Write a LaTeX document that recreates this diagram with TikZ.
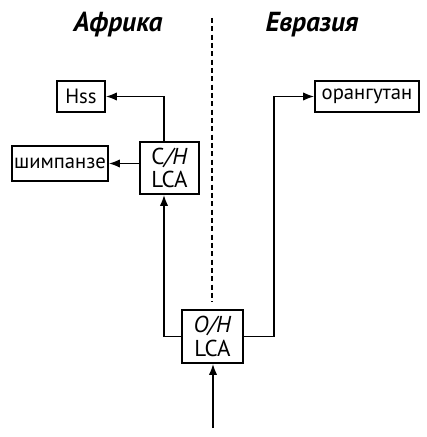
\documentclass[tikz,border=0pt]{standalone}
\usepackage{fontspec}
\setmainfont{PT Sans}
\usetikzlibrary{arrows.meta, positioning}

\begin{document}
\begin{tikzpicture}[>={Latex[length=6.5pt,width=5pt]}, x=0.6pt, y=-0.6pt,
  font=\fontsize{12.4}{14}\selectfont, line width=0.9pt,
  taxon/.style={draw, line width=1.2pt, inner sep=0pt, minimum height=18.6pt, align=center},
  region/.style={font=\fontsize{16.5}{18}\selectfont\bfseries\itshape}]
  \useasboundingbox (0,0) rectangle (426,437);
  \node[region] (afr) at (118,25) {Африка};
  \node[region] (eur) at (312,25) {Евразия};
  \node[taxon, minimum width=28.8pt] (hss) at (81,96.5) {Hss};
  \node[taxon, minimum width=57.6pt, minimum height=21pt] (chimp) at (60,163.5) {шимпанзе};
  \node[taxon, minimum width=35.4pt, minimum height=31.2pt, font=\fontsize{13.8}{14}\selectfont] (ch) at (169.5,168) {C\textit{/H}\\LCA};
  \node[taxon, minimum width=36.6pt, minimum height=31.8pt, font=\fontsize{13.8}{14}\selectfont] (oh) at (212.5,336.5) {\textit{O/H}\\LCA};
  \node[taxon, minimum width=62.4pt] (orang) at (367,96.5) {орангутан};
  \coordinate (divtop) at (212,18);
  \coordinate (divbot) at (212,302);
  \coordinate (root) at (213,428);
  % boundary between the continents
  \draw[line width=0.8pt, dash pattern=on 3pt off 2pt] (divtop) -- (divbot);
  \draw[->] (root) -- (root |- oh.south);
  \draw[->] (oh.west) -| ([xshift=-3.3pt]ch.south);
  \draw[->] (oh.east) -- ++(30,0) |- (orang.west);
  \draw[->] ([xshift=-3.3pt]ch.north) |- (hss.east);
  \draw[->] (ch.west |- chimp.east) -- (chimp.east);
\end{tikzpicture}
\end{document}
